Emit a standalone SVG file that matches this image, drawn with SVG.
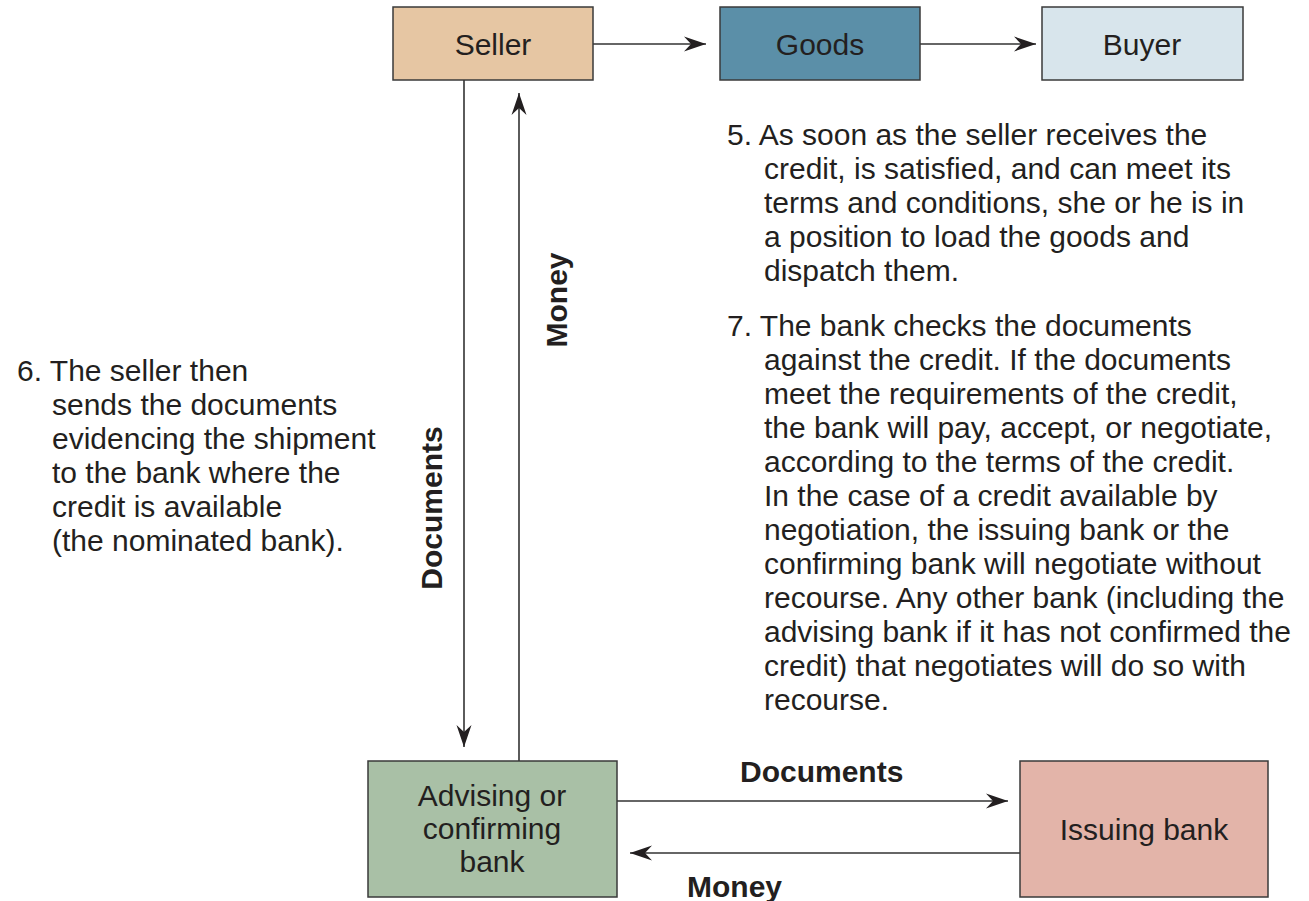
<svg xmlns="http://www.w3.org/2000/svg" width="1309" height="901" viewBox="0 0 1309 901">
<style>
.box{stroke:#3a3a3a;stroke-width:1.5}
.lbl{font-family:"Liberation Sans",Arial,sans-serif;font-size:30px;fill:#231f20;text-anchor:middle}
.txt{font-family:"Liberation Sans",Arial,sans-serif;font-size:30px;fill:#231f20}
.bold{font-family:"Liberation Sans",Arial,sans-serif;font-size:30px;font-weight:bold;fill:#231f20}
.ln{stroke:#333;stroke-width:1.6;fill:none;marker-end:url(#ah)}
</style>
<defs>
<marker id="ah" markerUnits="userSpaceOnUse" viewBox="-22 -8 24 16" refX="0" refY="0" markerWidth="24" markerHeight="16" orient="auto">
<path d="M0,0 L-22,-7.5 L-15,0 L-22,7.5 Z" fill="#231f20"/>
</marker>
</defs>
<rect width="1309" height="901" fill="#fff"/>
<g id="connectors">
<line class="ln" x1="593" y1="44" x2="706" y2="44"/>
<line class="ln" x1="920" y1="44" x2="1036" y2="44"/>
<line class="ln" x1="464" y1="80" x2="464" y2="747"/>
<line class="ln" x1="519" y1="761" x2="519" y2="93"/>
<line class="ln" x1="617" y1="801" x2="1008" y2="801"/>
<line class="ln" x1="1020" y1="853" x2="630" y2="853"/>
<text class="bold" transform="translate(567,300) rotate(-90)" text-anchor="middle">Money</text>
<text class="bold" transform="translate(442,508) rotate(-90)" text-anchor="middle">Documents</text>
<text class="bold" x="740" y="782">Documents</text>
<text class="bold" x="687" y="897">Money</text>
</g>
<g id="seller">
<rect class="box" x="393" y="7" width="200" height="73" fill="#e6c6a3"/>
<text class="lbl" x="493" y="55">Seller</text>
</g>
<g id="goods">
<rect class="box" x="720" y="7" width="200" height="73" fill="#5b8fa8"/>
<text class="lbl" x="820" y="55">Goods</text>
</g>
<g id="buyer">
<rect class="box" x="1042" y="7" width="201" height="73" fill="#d8e5ec"/>
<text class="lbl" x="1142" y="55">Buyer</text>
</g>
<g id="advising">
<rect class="box" x="368" y="761" width="249" height="136" fill="#a9c0a6"/>
<text class="lbl" x="492" y="806">Advising or</text>
<text class="lbl" x="492" y="839">confirming</text>
<text class="lbl" x="492" y="872">bank</text>
</g>
<g id="issuing">
<rect class="box" x="1020" y="761" width="248" height="136" fill="#e3b4a9"/>
<text class="lbl" x="1144" y="840">Issuing bank</text>
</g>
<g id="note5">
<text class="txt" x="727" y="145">5. As soon as the seller receives the</text>
<text class="txt" x="764" y="179">credit, is satisfied, and can meet its</text>
<text class="txt" x="764" y="213">terms and conditions, she or he is in</text>
<text class="txt" x="764" y="247">a position to load the goods and</text>
<text class="txt" x="764" y="281">dispatch them.</text>
</g>
<g id="note7">
<text class="txt" x="727" y="336">7. The bank checks the documents</text>
<text class="txt" x="764" y="370">against the credit. If the documents</text>
<text class="txt" x="764" y="404">meet the requirements of the credit,</text>
<text class="txt" x="764" y="438">the bank will pay, accept, or negotiate,</text>
<text class="txt" x="764" y="472">according to the terms of the credit.</text>
<text class="txt" x="764" y="506">In the case of a credit available by</text>
<text class="txt" x="764" y="540">negotiation, the issuing bank or the</text>
<text class="txt" x="764" y="574">confirming bank will negotiate without</text>
<text class="txt" x="764" y="608">recourse. Any other bank (including the</text>
<text class="txt" x="764" y="642">advising bank if it has not confirmed the</text>
<text class="txt" x="764" y="676">credit) that negotiates will do so with</text>
<text class="txt" x="764" y="710">recourse.</text>
</g>
<g id="note6">
<text class="txt" x="17" y="381">6. The seller then</text>
<text class="txt" x="52" y="415">sends the documents</text>
<text class="txt" x="52" y="449">evidencing the shipment</text>
<text class="txt" x="52" y="483">to the bank where the</text>
<text class="txt" x="52" y="517">credit is available</text>
<text class="txt" x="52" y="551">(the nominated bank).</text>
</g>
</svg>
